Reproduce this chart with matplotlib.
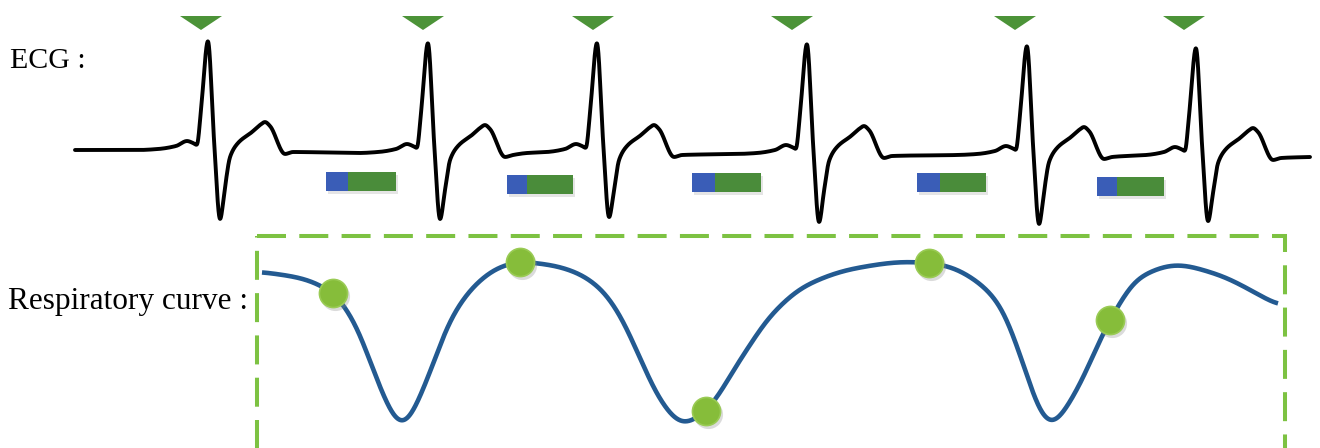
import numpy as np
import matplotlib
matplotlib.use("Agg")
import matplotlib.pyplot as plt
from matplotlib.patches import Polygon, Rectangle

# --- data (canvas pixel coordinates, y grows downwards) ---
# ECG beats
r_peak_x = [208, 428, 597, 807, 1027, 1196]
r_peak_top = [40, 42, 42, 43, 45, 47]
s_bottom = [220, 220, 218, 223, 225, 222]
baseline = [150, 153, 153, 154, 155, 156]
ecg_start = (75, 150)
ecg_end = (1310, 157)

# one beat template: offset from R peak, deflection from baseline
# (R peak, mid-downstroke and S trough are filled from the per-beat values)
beat_dx = [-70, -50, -32, -21, -15, -11, -7, 0, 6, 12, 17, 22, 30, 44, 52, 57, 62, 77, 85]
beat_dy = [0, -1, -4, -9, -7, -5, -40, None, None, None, 37, 7, -7, -18, -25, -28, -24, 4, 2]

# R-peak detection marks
marker_x = [201, 423, 593, 792, 1015, 1184]

# trigger windows (blue part + green part)
window_start = [326, 507, 692, 917, 1097]
window_blue = [22, 20, 23, 23, 20]
window_total = [70, 66, 69, 69, 67]
window_top = [172, 175, 173, 173, 177]

# respiratory curve
resp_x = [262, 300, 333, 357, 377, 402, 427, 450, 477, 500, 520, 550, 575, 600, 620, 640,
          660, 683, 706, 740, 773, 807, 857, 907, 929, 950, 975, 1000, 1023, 1040, 1050,
          1073, 1110, 1140, 1177, 1213, 1278]
resp_y = [272, 278, 293, 327, 380, 427, 380, 320, 283, 267, 262, 265, 272, 288, 315, 358,
          400, 424, 411, 360, 313, 285, 268, 262, 263, 267, 280, 305, 363, 413, 426,
          397, 320, 277, 265, 273, 305]
dot_x = [333, 520, 706, 929, 1110]
dot_y = [293, 262, 411, 263, 320]

box = (257, 236, 1285, 470)


def pchip(x, y, xs):
    x = np.asarray(x, float)
    y = np.asarray(y, float)
    h = np.diff(x)
    delta = np.diff(y) / h
    d = np.zeros_like(y)
    for k in range(1, len(x) - 1):
        if delta[k - 1] * delta[k] > 0:
            w1 = 2 * h[k] + h[k - 1]
            w2 = h[k] + 2 * h[k - 1]
            d[k] = (w1 + w2) / (w1 / delta[k - 1] + w2 / delta[k])
    d[0] = delta[0]
    d[-1] = delta[-1]
    idx = np.clip(np.searchsorted(x, xs) - 1, 0, len(x) - 2)
    t = (xs - x[idx]) / h[idx]
    h00 = 2 * t**3 - 3 * t**2 + 1
    h10 = t**3 - 2 * t**2 + t
    h01 = -2 * t**3 + 3 * t**2
    h11 = t**3 - t**2
    return h00 * y[idx] + h10 * h[idx] * d[idx] + h01 * y[idx + 1] + h11 * h[idx] * d[idx + 1]


def smooth(y, sigma_samples):
    n = int(4 * sigma_samples)
    k = np.exp(-0.5 * (np.arange(-n, n + 1) / sigma_samples) ** 2)
    k /= k.sum()
    yp = np.pad(y, n, mode="edge")
    return np.convolve(yp, k, mode="valid")


# build ECG key points
ex, ey = [ecg_start[0]], [ecg_start[1]]
for rx, top, sb, b in zip(r_peak_x, r_peak_top, s_bottom, baseline):
    for dx, dy in zip(beat_dx, beat_dy):
        if dx == 0:
            yv = top
        elif dx == 12:
            yv = sb
        elif dx == 6:
            yv = (top + sb) / 2 + 10
        else:
            yv = b + dy
        ex.append(rx + dx)
        ey.append(yv)
ex.append(ecg_end[0])
ey.append(ecg_end[1])

fig = plt.figure(figsize=(13.2, 4.48), dpi=100)
ax = fig.add_axes([0, 0, 1, 1])
ax.set_xlim(0, 1320)
ax.set_ylim(448, 0)
ax.axis("off")

xs = np.arange(ex[0], ex[-1] + 0.05, 0.1)
ax.plot(xs, smooth(pchip(ex, ey, xs), 6), color="black", lw=2.8, solid_joinstyle="round",
        solid_capstyle="round", zorder=3)

for mx in marker_x:
    ax.add_patch(Polygon([(mx - 21, 16), (mx + 21, 16), (mx, 30)], closed=True,
                         facecolor="#4C9338", edgecolor="none", zorder=4))

for x0, bw, tw, y0 in zip(window_start, window_blue, window_total, window_top):
    ax.add_patch(Rectangle((x0 + 2, y0 + 3), tw, 19, facecolor="#999999", alpha=0.25,
                           edgecolor="none", zorder=1))
    ax.add_patch(Rectangle((x0, y0), bw, 19, facecolor="#3A5DB7", edgecolor="none", zorder=2))
    ax.add_patch(Rectangle((x0 + bw, y0), tw - bw, 19, facecolor="#4A8C3A",
                           edgecolor="none", zorder=2))

ax.add_patch(Rectangle((box[0], box[1]), box[2] - box[0], box[3] - box[1], fill=False,
                       edgecolor="#7DC242", lw=2.9, linestyle=(0, (7.2, 3.3)), zorder=2))

# dense curve through the read points, then a light blur to take out the kinks
rs = np.arange(resp_x[0], resp_x[-1] + 0.25, 0.5)
ry = smooth(pchip(resp_x, resp_y, rs), 16)
ax.plot(rs, ry, color="#235A91", lw=3.3, solid_capstyle="butt", zorder=3)
ax.scatter(np.array(dot_x) + 2, np.array(dot_y) + 3, s=440, color="#888888", alpha=0.3,
           linewidths=0, zorder=4)
ax.scatter(dot_x, dot_y, s=410, color="#86BD3A", edgecolors="#9ACB55", linewidths=1.2,
           zorder=5)

ax.text(10, 61, "ECG :", fontsize=21.5, family="Liberation Serif", va="center", ha="left")
ax.text(8, 302, "Respiratory curve :", fontsize=22.5, family="Liberation Serif",
        va="center", ha="left")

fig.savefig("out.png", dpi=100, facecolor="white")
